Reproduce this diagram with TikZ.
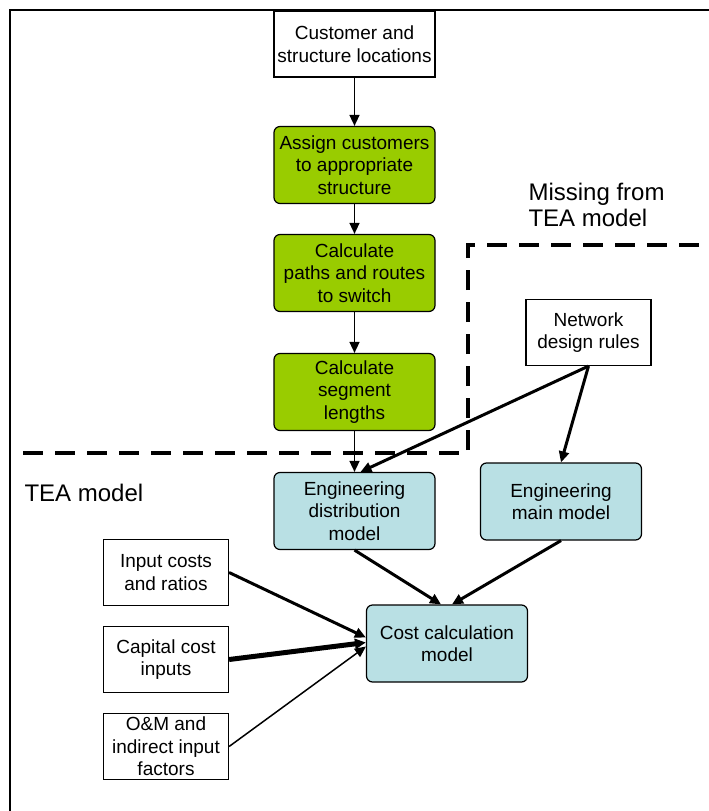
\documentclass[tikz,border=0pt]{standalone}
\usepackage{fontspec}
\setmainfont{Liberation Sans}
\usepackage{tikz}
\usetikzlibrary{arrows.meta, positioning}
\definecolor{stepgreen}{HTML}{99CC00}
\definecolor{modelblue}{HTML}{B9E0E4}
\tikzstyle{input} = [rectangle, 
minimum width=125pt, 
minimum height=66pt, 
text centered, 
align=center, 
draw=black, 
line width=1.2pt, 
fill=white, 
font=\fontsize{19}{22.5}\selectfont]
\tikzstyle{process} = [rectangle, 
rounded corners=6pt, 
minimum width=161pt, 
minimum height=77pt, 
text centered, 
align=center, 
draw=black, 
line width=1.2pt, 
fill=stepgreen, 
font=\fontsize{19}{22.5}\selectfont]
\tikzstyle{model} = [process, fill=modelblue]
\tikzstyle{region} = [font=\fontsize{24}{26}\selectfont, align=left, anchor=west]
\tikzstyle{arrow} = [line width=1.5pt, ->, >={Triangle[length=11pt,width=10pt]}]
\tikzstyle{border} = [line width=4pt, dash pattern=on 20pt off 12pt]

\begin{document}
\begin{tikzpicture}[x=1pt, y=1pt, node distance=119pt]
  \useasboundingbox (0,0) rectangle (709,-811);
  \draw [line width=2.5pt] (10,-811) -- (10,-10) -- (709,-10);

  \node (locations) [input, minimum width=161pt] at (354.5,-44) {Customer and\\structure locations};
  \node (assign) [process, below of=locations, yshift=-2pt] {Assign customers\\to appropriate\\structure};
  \node (paths) [process, below of=assign, yshift=11pt] {Calculate\\paths and routes\\to switch};
  \node (segments) [process, below of=paths] {Calculate\\segment\\lengths};
  \node (distmodel) [model, below of=segments] {Engineering\\distribution\\model};
  \node (mainmodel) [model] at (561,-501.5) {Engineering\\main model};
  \node (rules) [input] at (588.5,-332.5) {Network\\design rules};
  \node (cost) [model] at (447,-643.5) {Cost calculation\\model};

  \node (ratios) [input] at (166,-572.5) {Input costs\\and ratios};
  \node (capital) [input, below of=ratios, node distance=87pt] {Capital cost\\inputs};
  \node (factors) [input, below of=capital, node distance=87pt] {O\&M and\\indirect input\\factors};

  \draw [border] (23,-453) -- (468,-453) -- (468,-245) -- (709,-245);
  \node (missing) [region] at (525,-205) {Missing from\\TEA model};
  \node (tea) [region] at (21,-493) {TEA model};

  \draw [arrow] (locations) -- (assign);
  \draw [arrow] (assign) -- (paths);
  \draw [arrow] (paths) -- (segments);
  \draw [arrow] (segments) -- (distmodel);
  \draw [arrow, line width=3pt] (rules.south) -- ([xshift=6pt]distmodel.north);
  \draw [arrow, line width=3pt] (rules.south) -- (mainmodel.north);
  \draw [arrow, line width=3pt] (distmodel.south) -- ([xshift=-6pt]cost.north);
  \draw [arrow, line width=3pt] (mainmodel.south) -- ([xshift=5pt]cost.north);
  \draw [arrow, line width=3pt] (ratios.east) -- ([yshift=6pt]cost.west);
  \draw [arrow, line width=5pt] (capital.east) -- ([yshift=1pt]cost.west);
  \draw [arrow] (factors.east) -- ([yshift=-3pt]cost.west);
\end{tikzpicture}
\end{document}
